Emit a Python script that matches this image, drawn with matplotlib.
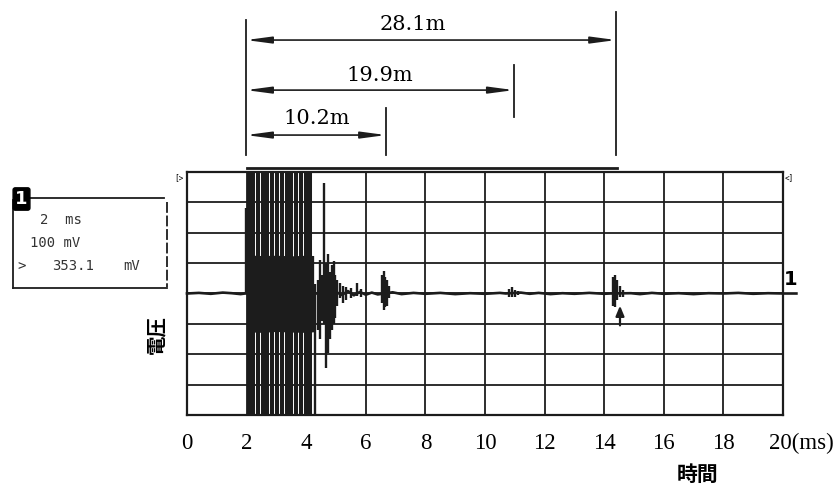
import matplotlib.pyplot as plt
from matplotlib.lines import Line2D
from matplotlib.transforms import blended_transform_factory, ScaledTranslation

# oscilloscope screen: 2 ms/div, 100 mV/div
grid_t = [0, 2, 4, 6, 8, 10, 12, 14, 16, 18, 20]
grid_v = [-400, -300, -200, -100, 0, 100, 200, 300, 400]
tick_labels = ["0", "2", "4", "6", "8", "10", "12", "14", "16", "18", "20(ms)"]

# baseline trace (ms, mV)
trace_t = [0.0, 0.4, 0.8, 1.2, 1.5, 1.8, 1.95, 4.35, 4.9, 5.2, 5.4, 5.6, 5.8,
           6.0, 6.2, 6.4, 6.9, 7.2, 7.6, 8.0, 8.5, 9.0, 9.5, 10.0, 10.5, 10.7,
           11.2, 11.5, 11.8, 12.2, 12.6, 13.0, 13.5, 14.0, 14.2, 14.9, 15.2,
           15.6, 16.0, 16.5, 17.0, 17.5, 18.0, 18.5, 19.0, 19.5, 20.0, 20.45]
trace_v = [0, 2, -1, 3, 1, -2, 0, 0, 10, -5, 8, -6, 5,
           -4, 3, -3, 4, -2, 2, -1, 2, -2, 1, -1, 2, 0,
           3, -1, 2, -2, 1, -1, 2, -1, 0, 1, -2,
           2, -1, 1, -2, 1, 0, 2, -1, 1, 0, 0]

# saturated transmit burst
block_t = [2.0, 2.5, 3.0, 3.5, 4.0, 4.25]
block_hi = [127, 125, 126, 124, 126, 125]
block_lo = [-126, -128, -125, -127, -128, -126]

# bars clipped at full scale
bar_t = [2.07, 2.21, 2.37, 2.54, 2.70, 2.86, 3.02, 3.18, 3.34, 3.50, 3.66,
         3.82, 3.98, 4.14]

# ringing and echoes
spike_t = [1.97, 4.30, 4.38, 4.45, 4.52, 4.60, 4.68, 4.74, 4.80, 4.86, 4.92,
           4.98, 5.04, 5.12, 5.22, 5.35, 5.50, 5.70, 5.85, 6.55, 6.60, 6.65,
           6.70, 6.78, 10.80, 10.90, 11.00, 11.10, 14.28, 14.36, 14.43, 14.53,
           14.63]
spike_hi = [280, 30, 45, 110, 60, 365, 100, 130, 70, 95, 108,
            60, 45, 33, 25, 20, 18, 33, 15, 60, 75, 55,
            45, 25, 15, 20, 12, 8, 54, 60, 43, 26,
            10]
spike_lo = [0, -400, -120, -150, -90, -100, -245, -195, -150, -120, -100,
            -80, -40, -16, -30, -20, -15, -7, -12, -30, -55, -45,
            -40, -15, -13, -10, -12, -6, -40, -45, -23, -13,
            -10]

# distance markers
dim_labels = ["10.2m", "19.9m", "28.1m"]
dim_start = 1.98
dim_end = [6.68, 10.97, 14.40]

INK = "#1c1c1c"

fig = plt.figure(figsize=(8.35, 4.9), dpi=100)
ax = fig.add_axes([187 / 835, 75 / 490, 596 / 835, 243 / 490])
ax.set_xlim(0, 20)
ax.set_ylim(-400, 400)

ax.set_xticks(grid_t, tick_labels, family="Liberation Serif", fontsize=16.5)
ax.set_yticks(grid_v, [])
ax.tick_params(length=0, pad=13)
ax.grid(True, color=INK, lw=1.3)
ax.set_axisbelow(True)
for sp in ax.spines.values():
    sp.set_color(INK)
    sp.set_linewidth(1.6)
last = ax.get_xticklabels()[-1]
last.set_ha("left")
last.set_transform(last.get_transform() + ScaledTranslation(-0.14, 0, fig.dpi_scale_trans))

ax.fill_between(block_t, block_lo, block_hi, color=INK, lw=0)
ax.vlines(bar_t, -400, 400, color=INK, lw=2.9)
ax.vlines(spike_t, spike_lo, spike_hi, color=INK, lw=1.7)
ax.plot(trace_t, trace_v, color=INK, lw=1.9, clip_on=False)

ax.annotate("", xy=(14.53, -40), xytext=(14.53, -105),
            arrowprops=dict(arrowstyle="-|>,head_length=0.6,head_width=0.25",
                            color=INK, lw=1.6, shrinkA=0, shrinkB=0))

ax.text(1.013, 0.556, "1", transform=ax.transAxes, ha="center", va="center",
        fontsize=14, fontweight="bold")
ax.text(-0.006, 0.995, "[>", transform=ax.transAxes, ha="right", va="top",
        fontsize=5.5, family="DejaVu Sans Mono")
ax.text(1.002, 0.995, "<]", transform=ax.transAxes, ha="left", va="top",
        fontsize=5.5, family="DejaVu Sans Mono")

ax.set_ylabel("電圧", family="Noto Sans CJK JP", fontweight="bold", fontsize=14)
ax.yaxis.set_label_coords(-0.034, 0.33)
ax.set_xlabel("時間", family="Noto Sans CJK JP", fontweight="bold", fontsize=15)
ax.xaxis.set_label_coords(0.857, -0.20)

# dimension lines above the screen (x in ms, y in axes fraction)
tr = blended_transform_factory(ax.transData, ax.transAxes)
arrow_y = [1.152, 1.337, 1.543]
label_t = [4.36, 6.48, 7.58]
label_y = [1.222, 1.399, 1.605]
end_ext = [(1.070, 1.263), (1.226, 1.440), (1.070, 1.658)]
ax.add_line(Line2D([dim_start, dim_start], [1.070, 1.626], transform=tr,
                   color=INK, lw=1.3, clip_on=False))
ax.add_line(Line2D([dim_start + 0.05, dim_end[2] + 0.03], [1.018, 1.018], transform=tr,
                   color=INK, lw=2.0, clip_on=False))
for lab, te, ay, lt, ly, (y0, y1) in zip(dim_labels, dim_end, arrow_y, label_t,
                                         label_y, end_ext):
    ax.add_line(Line2D([te, te], [y0, y1], transform=tr, color=INK, lw=1.3,
                       clip_on=False))
    ax.annotate("", xy=(te, ay), xytext=(dim_start, ay), xycoords=tr, textcoords=tr,
                arrowprops=dict(arrowstyle="<|-|>,head_length=1.5,head_width=0.2",
                                mutation_scale=10, color=INK, lw=1.2,
                                shrinkA=0, shrinkB=0), annotation_clip=False)
    ax.text(lt, ly, lab, transform=tr, ha="center", va="center",
            family="DejaVu Serif", fontsize=15)

# channel settings box
def fx(x):
    return x / 835


def fy(y):
    return 1 - y / 490


box = [([13, 13], [200, 288]), ([13, 167], [288, 288]), ([28, 164], [198, 198])]
for xs, ys in box:
    fig.add_artist(Line2D([fx(v) for v in xs], [fy(v) for v in ys], color=INK, lw=1.3))
fig.add_artist(Line2D([fx(167), fx(167)], [fy(202), fy(287)], color=INK, lw=1.3,
                      ls=(0, (6, 1.5))))
fig.text(fx(21.5), fy(199), "1", ha="center", va="center", color="white",
         fontsize=13, fontweight="bold",
         bbox=dict(boxstyle="round,pad=0.12", fc="black", ec="black"))
mono = dict(family="DejaVu Sans Mono", fontsize=10, color="#333333", va="center")
fig.text(fx(40), fy(220), "2  ms", **mono)
fig.text(fx(30), fy(243), "100 mV", **mono)
fig.text(fx(17), fy(266), ">", **mono)
fig.text(fx(52), fy(266), "353.1", **mono)
fig.text(fx(123), fy(266), "mV", **mono)

fig.savefig("out.png", dpi=100)
